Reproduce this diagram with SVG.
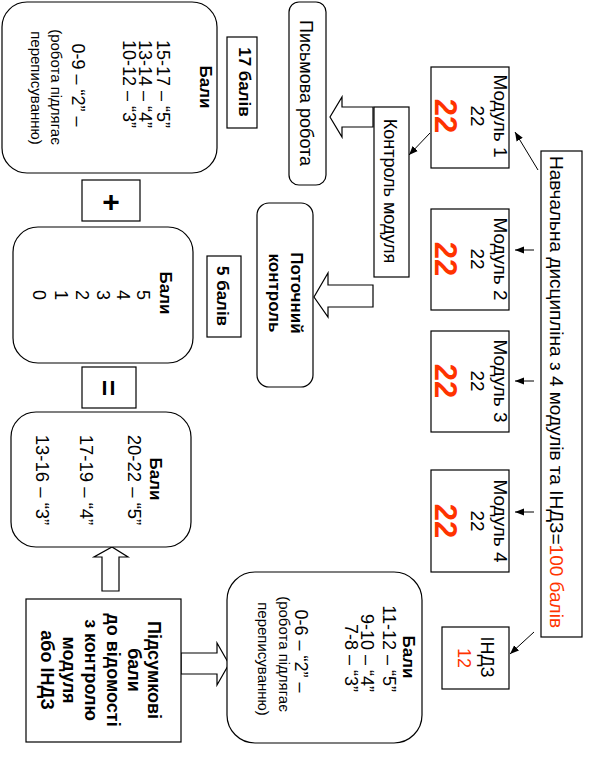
<svg xmlns="http://www.w3.org/2000/svg" width="594" height="766" viewBox="0 0 594 766">
<defs>
<style>
.box{fill:#fff;stroke:#000;stroke-width:1.2}
.blk{fill:#fff;stroke:#000;stroke-width:1.2;stroke-linejoin:miter}
.ln{fill:none;stroke:#000;stroke-width:1}
text{font-family:"Liberation Sans",Arial,"DejaVu Sans",sans-serif;font-size:18px;fill:#000;text-anchor:middle}
.b{font-weight:bold}
.s{font-size:15px}
.red{fill:#ff3300}
.big{font-size:31px;font-weight:bold;fill:#ff3300}
.e{text-anchor:end}
</style>
<marker id="ah" viewBox="0 0 10 10" refX="10" refY="5" markerWidth="9" markerHeight="9" markerUnits="userSpaceOnUse" orient="auto">
<path d="M0,1 L10,5 L0,9 Z" fill="#000"/>
</marker>
</defs>

<g id="connectors">
<line class="ln" x1="538" y1="170" x2="515" y2="132" marker-end="url(#ah)"/>
<line class="ln" x1="534" y1="250" x2="515" y2="250" marker-end="url(#ah)"/>
<line class="ln" x1="534" y1="381" x2="515" y2="381" marker-end="url(#ah)"/>
<line class="ln" x1="534" y1="512" x2="515" y2="512" marker-end="url(#ah)"/>
<line class="ln" x1="534" y1="632" x2="510" y2="654" marker-end="url(#ah)"/>
<line class="ln" x1="430" y1="133" x2="409" y2="155" marker-end="url(#ah)"/>
<polygon class="blk" points="373,107 342,107 342,97 330,117 342,137 342,127 373,127"/>
<polygon class="blk" points="373,285 328,285 328,273 314,297 328,317 328,307 373,307"/>
<polygon class="blk" points="102,591 102,557 94,557 112,547 128,557 119,557 119,591"/>
<polygon class="blk" points="181,653 217,653 217,643 229,664 217,685 217,674 181,674"/>
</g>

<g id="discipline">
<rect class="box" x="541" y="151" width="41" height="486"/>
<text transform="translate(550,392) rotate(90)" style="font-size:19px">Навчальна дисципліна з 4 модулів та ІНДЗ=<tspan class="red">100 балів</tspan></text>
</g>

<g id="module1">
<rect class="box" x="431" y="67" width="78" height="101"/>
<text transform="translate(494,116) rotate(90)" style="font-size:19px">Модуль 1</text>
<text transform="translate(471,116) rotate(90)" style="font-size:19px">22</text>
<text class="big" transform="translate(435,116) rotate(90)">22</text>
</g>

<g id="module2">
<rect class="box" x="431" y="209" width="78" height="101"/>
<text transform="translate(494,259) rotate(90)" style="font-size:19px">Модуль 2</text>
<text transform="translate(471,259) rotate(90)" style="font-size:19px">22</text>
<text class="big" transform="translate(435,259) rotate(90)">22</text>
</g>

<g id="module3">
<rect class="box" x="431" y="331" width="78" height="101"/>
<text transform="translate(494,381) rotate(90)" style="font-size:19px">Модуль 3</text>
<text transform="translate(471,381) rotate(90)" style="font-size:19px">22</text>
<text class="big" transform="translate(435,381) rotate(90)">22</text>
</g>

<g id="module4">
<rect class="box" x="431" y="470" width="78" height="102"/>
<text transform="translate(494,521) rotate(90)" style="font-size:19px">Модуль 4</text>
<text transform="translate(471,521) rotate(90)" style="font-size:19px">22</text>
<text class="big" transform="translate(435,521) rotate(90)">22</text>
</g>

<g id="indz">
<rect class="box" x="442" y="627" width="67" height="62"/>
<text transform="translate(481,657) rotate(90)">ІНДЗ</text>
<text class="red" transform="translate(458,658) rotate(90)">12</text>
</g>

<g id="module-control">
<rect class="box" x="374" y="107" width="35" height="170"/>
<text transform="translate(384,191) rotate(90)">Контроль модуля</text>
</g>

<g id="written-work">
<rect class="box" x="289" y="2" width="37" height="183" rx="10"/>
<text transform="translate(300,93) rotate(90)">Письмова робота</text>
</g>

<g id="current-control">
<rect class="box" x="257" y="203" width="56" height="184" rx="12"/>
<text class="b" transform="translate(291,293) rotate(90)" style="font-size:17px">Поточний</text>
<text class="b" transform="translate(269,293) rotate(90)" style="font-size:17px">контроль</text>
</g>

<g id="pts17">
<rect class="box" x="227" y="37" width="30" height="91"/>
<text class="b" transform="translate(239,82) rotate(90)" style="font-size:17px">17 балів</text>
</g>

<g id="pts5">
<rect class="box" x="207" y="256" width="34" height="81"/>
<text class="b" transform="translate(217,296) rotate(90)" style="font-size:17px">5 балів</text>
</g>

<g id="scale-written">
<rect class="box" x="2" y="2" width="215" height="171" rx="25"/>
<text class="b" transform="translate(200,87) rotate(90)" style="font-size:17px">Бали</text>
<text transform="translate(157,84) rotate(90)">15-17 – “5”</text>
<text transform="translate(139,84) rotate(90)">13-14 – “4”</text>
<text transform="translate(123,84) rotate(90)">10-12 – “3”</text>
<text transform="translate(72,85) rotate(90)">0-9 – “2” –</text>
<text class="s" transform="translate(51,87) rotate(90)">(робота підлягає</text>
<text class="s" transform="translate(31,88) rotate(90)">переписуванню)</text>
</g>

<g id="plus">
<rect class="box" x="82" y="180" width="58" height="41"/>
<text class="b" x="111" y="201" dominant-baseline="central" style="font-size:30px">+</text>
</g>

<g id="scale-current">
<rect class="box" x="13" y="227" width="180" height="136" rx="25"/>
<text class="b" transform="translate(160,293) rotate(90)" style="font-size:17px">Бали</text>
<text transform="translate(137,295) rotate(90)">5</text>
<text transform="translate(117,295) rotate(90)">4</text>
<text transform="translate(97,295) rotate(90)">3</text>
<text transform="translate(76,295) rotate(90)">2</text>
<text transform="translate(55,295) rotate(90)">1</text>
<text transform="translate(33,295) rotate(90)">0</text>
</g>

<g id="equals">
<rect class="box" x="82" y="367" width="54" height="41"/>
<text class="b" transform="translate(108,388) rotate(90)" dominant-baseline="central" style="font-size:28px">=</text>
</g>

<g id="scale-module">
<rect class="box" x="11" y="412" width="180" height="135" rx="25"/>
<text class="b" transform="translate(150,479) rotate(90)" style="font-size:17px">Бали</text>
<text transform="translate(128,480) rotate(90)" style="font-size:18.5px">20-22 – “5”</text>
<text transform="translate(80,480) rotate(90)" style="font-size:18.5px">17-19 – “4”</text>
<text transform="translate(36,480) rotate(90)" style="font-size:18.5px">13-16 – “3”</text>
</g>

<g id="final">
<rect class="box" x="26" y="599" width="155" height="143"/>
<text class="b" transform="translate(148,670) rotate(90)">Підсумкові</text>
<text class="b" transform="translate(128,670) rotate(90)">бали</text>
<text class="b" transform="translate(107,670) rotate(90)">до відомості</text>
<text class="b" transform="translate(85,670) rotate(90)">з контролю</text>
<text class="b" transform="translate(63,670) rotate(90)">модуля</text>
<text class="b" transform="translate(41,670) rotate(90)">або ІНДЗ</text>
</g>

<g id="scale-indz">
<rect class="box" x="227" y="572" width="195" height="171" rx="28"/>
<text class="b" transform="translate(403,657) rotate(90)" style="font-size:17px">Бали</text>
<text class="e" transform="translate(383,692) rotate(90)">11-12 – “5”</text>
<text class="e" transform="translate(361,692) rotate(90)">9-10 – “4”</text>
<text class="e" transform="translate(345,692) rotate(90)">7-8 – “3”</text>
<text transform="translate(295,651) rotate(90)">0-6 – “2” –</text>
<text class="s" transform="translate(279,654) rotate(90)">(робота підлягає</text>
<text class="s" transform="translate(258,659) rotate(90)">переписуванню)</text>
</g>
</svg>
